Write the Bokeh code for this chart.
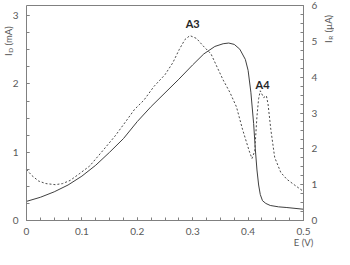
import math
from bokeh.plotting import figure
from bokeh.models import Range1d, LinearAxis, FixedTicker, Label
from bokeh.embed import file_html
from bokeh.resources import INLINE

# ---- data ----
E_d = [0, 0.025, 0.05, 0.075, 0.1, 0.125, 0.15, 0.175, 0.2, 0.225, 0.25, 0.275, 0.3,
       0.32, 0.34, 0.355, 0.365, 0.375, 0.385, 0.395, 0.40, 0.405, 0.41, 0.413,
       0.416, 0.419, 0.422, 0.426, 0.432, 0.44, 0.455, 0.47, 0.5]
I_D = [0.28, 0.34, 0.42, 0.52, 0.65, 0.81, 1.00, 1.20, 1.45, 1.67, 1.87, 2.07, 2.28,
       2.44, 2.55, 2.59, 2.60, 2.58, 2.51, 2.36, 2.20, 1.88, 1.42, 1.05,
       0.74, 0.52, 0.38, 0.29, 0.25, 0.22, 0.20, 0.19, 0.165]

E_r = [0, 0.01, 0.022, 0.035, 0.052, 0.065, 0.079, 0.095, 0.114, 0.135, 0.16, 0.18,
       0.195, 0.212, 0.23, 0.25, 0.264, 0.276, 0.286, 0.295, 0.307, 0.319, 0.333,
       0.345, 0.355, 0.367, 0.379, 0.39, 0.402, 0.407, 0.412, 0.416, 0.419, 0.422,
       0.428, 0.433, 0.436, 0.441, 0.448, 0.459, 0.47, 0.483, 0.5]
I_R = [1.42, 1.25, 1.10, 1.03, 1.00, 1.03, 1.12, 1.30, 1.52, 1.90, 2.36, 2.78,
       3.10, 3.36, 3.74, 4.07, 4.40, 4.78, 5.05, 5.16, 5.08, 4.87, 4.65,
       4.25, 3.92, 3.58, 3.17, 2.54, 1.94, 1.73, 1.94, 2.91, 3.40, 3.62,
       3.43, 3.48, 3.25, 2.54, 1.76, 1.34, 1.15, 1.00, 0.81]

x_ticks = [0, 0.1, 0.2, 0.3, 0.4, 0.5]
x_tick_labels = ["0", "0.1", "0.2", "0.3", "0.4", "0.5"]
yl_ticks = [0, 1, 2, 3]
yr_ticks = [0, 1, 2, 3, 4, 5, 6]
peak_names = ["A3", "A4"]
peak_E = [0.300, 0.426]
peak_I = [2.89, 1.99]

X_MIN, X_MAX = 0, 0.5
YL_MIN, YL_MAX = 0, 3.15
YR_MIN, YR_MAX = 0, 6

# ---- layout (pixels inside the canvas) ----
W, H = 334, 249
L_PX, R_PX, T_PX, B_PX = 26, 303, 5, 220

AX = "#808080"
TXT = "#595959"
LINE = "#404040"
FONT = "Lato"

kx = (R_PX - L_PX) / (X_MAX - X_MIN)
ky = (B_PX - T_PX) / (YL_MAX - YL_MIN)
xr = Range1d(X_MIN - L_PX / kx, X_MAX + (W - R_PX) / kx)
y0 = YL_MIN - (H - B_PX) / ky
y1 = YL_MAX + T_PX / ky
yr = Range1d(y0, y1)
kr = (YR_MAX - YR_MIN) / (YL_MAX - YL_MIN)
rr = Range1d(YR_MIN + (y0 - YL_MIN) * kr, YR_MIN + (y1 - YL_MIN) * kr)

p = figure(width=W, height=H, output_backend="svg", toolbar_location=None,
           x_range=xr, y_range=yr, min_border=0,
           x_axis_type=None, y_axis_type=None)
p.extra_y_ranges = {"right": rr}
p.grid.visible = False
p.outline_line_color = None
p.background_fill_color = "white"
p.border_fill_color = "white"


def style(ax, standoff):
    ax.axis_line_color = AX
    ax.axis_line_width = 1
    ax.major_tick_line_color = AX
    ax.minor_tick_line_color = AX
    ax.major_tick_in = 3
    ax.major_tick_out = 0
    ax.minor_tick_in = 3
    ax.minor_tick_out = 0
    ax.major_label_text_font = FONT
    ax.major_label_text_font_size = "10px"
    ax.major_label_text_color = TXT
    ax.major_label_standoff = standoff


xax = LinearAxis(fixed_location=YL_MIN, bounds=(X_MIN, X_MAX),
                 ticker=FixedTicker(ticks=x_ticks,
                                    minor_ticks=[i * 0.025 for i in range(21)]))
xax.major_label_overrides = dict(zip(x_ticks, x_tick_labels))
style(xax, 7)
p.add_layout(xax, "below")

tax = LinearAxis(fixed_location=YL_MAX, bounds=(X_MIN, X_MAX),
                 ticker=FixedTicker(ticks=[], minor_ticks=[]))
style(tax, 6)
tax.major_label_text_font_size = "0px"
p.add_layout(tax, "above")

lax = LinearAxis(fixed_location=X_MIN, bounds=(YL_MIN, YL_MAX),
                 ticker=FixedTicker(ticks=yl_ticks,
                                    minor_ticks=[i * 0.25 for i in range(13)]))
style(lax, 8)
p.add_layout(lax, "left")

rax = LinearAxis(y_range_name="right", fixed_location=X_MAX, bounds=(YR_MIN, YR_MAX),
                 ticker=FixedTicker(ticks=yr_ticks,
                                    minor_ticks=[i * 0.25 for i in range(25)]))
style(rax, 8)
p.add_layout(rax, "right")

p.line(E_d, I_D, line_color=LINE, line_width=1)
p.line(E_r, I_R, y_range_name="right", line_color="#4a4a4a", line_width=1,
       line_dash="2 2")

for name, ex, iy in zip(peak_names, peak_E, peak_I):
    p.add_layout(Label(x=ex, y=iy, text=name, text_font=FONT, text_font_size="11px",
                       text_font_style="bold", text_color="#262626",
                       text_align="center", text_baseline="middle"))


def rot_label(x, y, xoff, main, sub, rest):
    common = dict(x=x, y=y, angle=math.pi / 2, text_font=FONT, text_color=TXT,
                  text_align="left", text_baseline="middle")
    p.add_layout(Label(text=main, x_offset=xoff, y_offset=0, text_font_size="9.5px", **common))
    p.add_layout(Label(text=sub, x_offset=xoff + 2, y_offset=3.2, text_font_size="6.5px", **common))
    p.add_layout(Label(text=rest, x_offset=xoff, y_offset=10.5, text_font_size="9.5px", **common))


rot_label(X_MIN, 2.41, -18, "I", "D", "(mA)")
rot_label(X_MAX, 2.60, 25, "I", "R", "(\u00b5A)")

p.add_layout(Label(x=X_MAX, y=YL_MIN, y_offset=-22, text="E (V)", text_font=FONT,
                   text_font_size="9.5px", text_color=TXT, text_align="center",
                   text_baseline="middle"))

open("out.html", "w").write(file_html(p, INLINE))
